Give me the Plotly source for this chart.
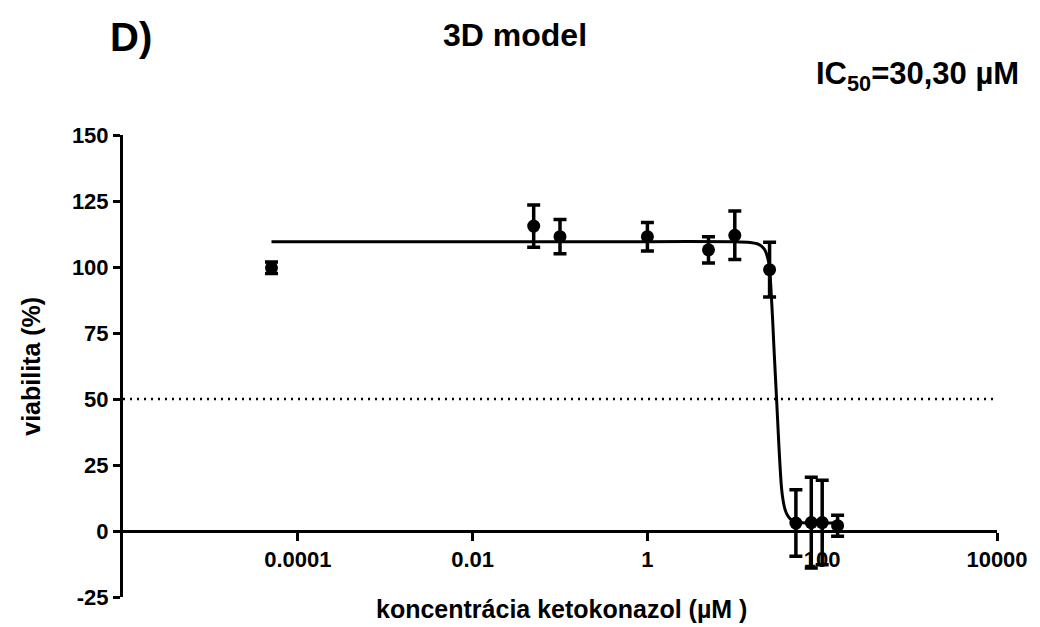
import plotly.graph_objects as go

# Measured data (concentration in µM, viability in %)
conc = [5e-5, 0.05, 0.1, 1, 5, 10, 25, 50, 75, 100, 150]
viab = [99.7, 115.5, 111.5, 111.5, 106.5, 112.0, 99.0, 3.0, 3.2, 3.2, 2.0]
sd = [2.2, 8.0, 6.5, 5.4, 5.0, 9.2, 10.4, 12.6, 17.2, 16.0, 4.0]

# Fitted curve
fit_x = [5e-5, 1, 10, 15, 18, 20, 22, 24, 25, 26, 27, 28, 29, 30, 31, 32, 33, 34, 35, 37, 39, 43, 48, 60, 80, 150]
fit_y = [109.6, 109.6, 109.6, 109.3, 108.8, 108.0, 106.5, 103.0, 99.5, 91.0, 81.0, 70.0, 60.0, 50.5, 41.0, 32.0, 24.0, 17.5, 13.5, 9.0, 6.7, 4.6, 3.6, 3.1, 3.0, 3.0]

threshold = 50

x_tickvals = [1e-4, 1e-2, 1, 100, 1e4]
x_ticktext = ["0.0001", "0.01", "1", "100", "10000"]
y_tickvals = [-25, 0, 25, 50, 75, 100, 125, 150]
y_ticktext = ["-25", "0", "25", "50", "75", "100", "125", "150"]

BOLD = "Liberation Sans, Arial, sans-serif"

# plot area in page pixels: x 123..1004, y 135..597 (page has 8px body offset)
def px(x):
    return (x - 123) / 881

def py(y):
    return 1 + (135 - y) / 462

fig = go.Figure()

fig.add_trace(go.Scatter(
    x=[1e-6, 1e4], y=[threshold, threshold], mode="lines",
    line=dict(color="black", width=2.5, dash="2px,5px"),
    hoverinfo="skip", showlegend=False))

fig.add_trace(go.Scatter(
    x=fit_x, y=fit_y, mode="lines",
    line=dict(color="black", width=3, shape="spline", smoothing=0.5),
    showlegend=False))

fig.add_trace(go.Scatter(
    x=conc, y=viab, mode="markers",
    marker=dict(color="black", size=13, symbol="circle"),
    error_y=dict(type="data", array=sd, visible=True, color="black", thickness=3.5, width=6.5),
    showlegend=False))

fig.update_layout(
    width=1032, height=619,
    margin=dict(l=115, r=36, t=127, b=30),
    plot_bgcolor="white", paper_bgcolor="white",
    font=dict(family=BOLD, color="black"),
    xaxis=dict(
        type="log", range=[-6, 4], anchor="free", position=1/7,
        tickvals=x_tickvals, ticktext=x_ticktext,
        showline=True, linecolor="black", linewidth=3,
        ticks="outside", ticklen=8, tickwidth=3, tickcolor="black",
        tickfont=dict(family=BOLD, size=22, color="black", weight="bold"),
        showgrid=False, zeroline=False, layer="below traces"),
    yaxis=dict(
        range=[-25, 150], tickvals=y_tickvals, ticktext=y_ticktext,
        showline=True, linecolor="black", linewidth=3,
        ticks="outside", ticklen=7, tickwidth=3, tickcolor="black",
        tickfont=dict(family=BOLD, size=22, color="black", weight="bold"),
        showgrid=False, zeroline=False),
    annotations=[
        dict(text="koncentrácia ketokonazol (µM )", xref="paper", yref="paper",
             x=px(565), y=py(609), xanchor="center", yanchor="middle", showarrow=False,
             font=dict(family=BOLD, size=25, weight="bold")),
        dict(text="viabilita (%)", xref="paper", yref="paper",
             x=px(30), y=py(366), xanchor="center", yanchor="middle", showarrow=False,
             textangle=-90, font=dict(family=BOLD, size=25, weight="bold")),
        dict(text="3D model", xref="paper", yref="paper", x=px(518), y=py(35),
             xanchor="center", yanchor="middle", showarrow=False,
             font=dict(family=BOLD, size=32, weight="bold")),
        dict(text="D)", xref="paper", yref="paper", x=px(108), y=py(37),
             xanchor="left", yanchor="middle", showarrow=False,
             font=dict(family=BOLD, size=40, weight="bold")),
        dict(text="IC<sub>50</sub>=30,30 µM", xref="paper", yref="paper", x=px(1028), y=py(76),
             xanchor="right", yanchor="middle", showarrow=False,
             font=dict(family=BOLD, size=31, weight="bold")),
    ],
)

fig.write_html("out.html")
